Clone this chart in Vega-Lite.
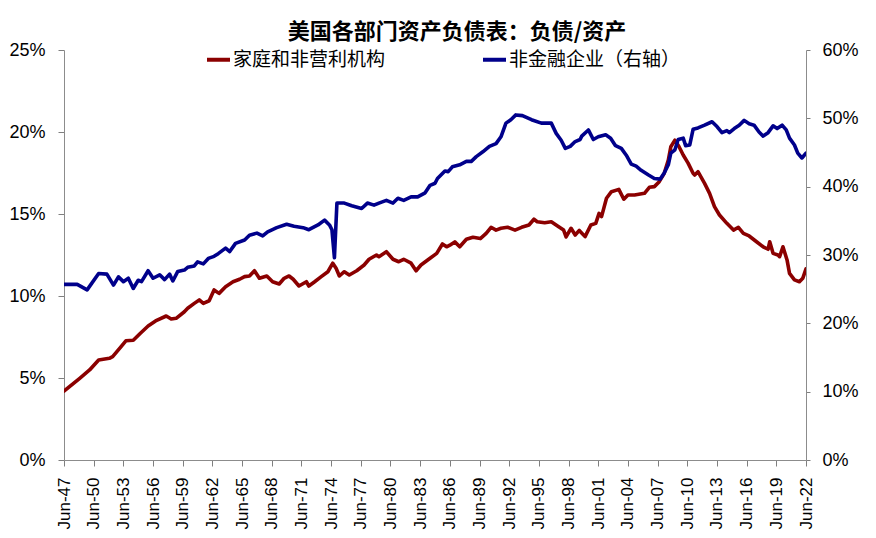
{
  "$schema": "https://vega.github.io/schema/vega-lite/v6.json",
  "width": 742,
  "height": 410,
  "autosize": {"type": "none"},
  "padding": {"left": 64, "top": 50, "right": 70, "bottom": 78},
  "background": "white",
  "title": {
    "text": "美国各部门资产负债表：负债/资产",
    "font": "Noto Sans CJK SC",
    "fontSize": 22,
    "fontWeight": "bold",
    "color": "#000000",
    "anchor": "middle",
    "dx": 22,
    "offset": -3
  },
  "config": {
    "view": {"stroke": null},
    "axis": {
      "grid": false,
      "labelFont": "Liberation Sans",
      "labelColor": "#000000",
      "domainColor": "#8c8c8c",
      "tickColor": "#7f7f7f",
      "tickWidth": 1,
      "domainWidth": 1,
      "title": null
    },
    "axisX": {"labelOverlap": false, "labelFlush": false}
  },
  "datasets": {
    "hh": [
      {"date": "1947-06-01", "v": 4.2},
      {"date": "1949-01-01", "v": 4.98},
      {"date": "1950-01-01", "v": 5.49},
      {"date": "1950-12-01", "v": 6.1},
      {"date": "1952-01-01", "v": 6.2},
      {"date": "1952-05-01", "v": 6.3},
      {"date": "1953-03-01", "v": 6.9},
      {"date": "1953-09-01", "v": 7.27},
      {"date": "1954-06-01", "v": 7.3},
      {"date": "1955-02-01", "v": 7.7},
      {"date": "1955-12-01", "v": 8.17},
      {"date": "1956-09-01", "v": 8.48},
      {"date": "1957-10-01", "v": 8.78},
      {"date": "1958-04-01", "v": 8.6},
      {"date": "1958-10-01", "v": 8.64},
      {"date": "1959-08-01", "v": 9.04},
      {"date": "1959-12-01", "v": 9.25},
      {"date": "1960-08-01", "v": 9.55},
      {"date": "1961-02-01", "v": 9.76},
      {"date": "1961-07-01", "v": 9.55},
      {"date": "1962-02-01", "v": 9.71},
      {"date": "1962-08-01", "v": 10.37},
      {"date": "1963-02-01", "v": 10.16},
      {"date": "1963-10-01", "v": 10.57},
      {"date": "1964-07-01", "v": 10.87},
      {"date": "1965-03-01", "v": 11.02},
      {"date": "1965-09-01", "v": 11.18},
      {"date": "1966-03-01", "v": 11.22},
      {"date": "1966-09-01", "v": 11.54},
      {"date": "1967-03-01", "v": 11.08},
      {"date": "1967-12-01", "v": 11.22},
      {"date": "1968-07-01", "v": 10.87},
      {"date": "1969-03-01", "v": 10.73},
      {"date": "1969-09-01", "v": 11.08},
      {"date": "1970-03-01", "v": 11.22},
      {"date": "1970-08-01", "v": 11.02},
      {"date": "1971-03-01", "v": 10.61},
      {"date": "1971-12-01", "v": 10.87},
      {"date": "1972-03-01", "v": 10.61},
      {"date": "1972-10-01", "v": 10.87},
      {"date": "1973-06-01", "v": 11.18},
      {"date": "1974-02-01", "v": 11.48},
      {"date": "1974-08-01", "v": 12.0},
      {"date": "1974-12-01", "v": 11.69},
      {"date": "1975-04-01", "v": 11.22},
      {"date": "1975-10-01", "v": 11.48},
      {"date": "1976-04-01", "v": 11.28},
      {"date": "1977-01-01", "v": 11.54},
      {"date": "1977-10-01", "v": 11.89},
      {"date": "1978-04-01", "v": 12.24},
      {"date": "1979-01-01", "v": 12.5},
      {"date": "1979-04-01", "v": 12.4},
      {"date": "1980-01-01", "v": 12.7},
      {"date": "1980-09-01", "v": 12.24},
      {"date": "1981-04-01", "v": 12.09},
      {"date": "1981-10-01", "v": 12.24},
      {"date": "1982-07-01", "v": 12.0},
      {"date": "1983-01-01", "v": 11.54},
      {"date": "1983-07-01", "v": 11.89},
      {"date": "1984-06-01", "v": 12.3},
      {"date": "1985-02-01", "v": 12.6},
      {"date": "1985-09-01", "v": 13.17},
      {"date": "1986-02-01", "v": 13.0},
      {"date": "1986-06-01", "v": 13.1},
      {"date": "1986-12-01", "v": 13.3},
      {"date": "1987-06-01", "v": 13.0},
      {"date": "1988-02-01", "v": 13.46},
      {"date": "1988-10-01", "v": 13.58},
      {"date": "1989-07-01", "v": 13.5},
      {"date": "1990-02-01", "v": 13.82},
      {"date": "1990-08-01", "v": 14.19},
      {"date": "1991-02-01", "v": 14.02},
      {"date": "1991-08-01", "v": 14.13},
      {"date": "1992-04-01", "v": 14.19},
      {"date": "1993-01-01", "v": 14.02},
      {"date": "1993-09-01", "v": 14.19},
      {"date": "1994-06-01", "v": 14.33},
      {"date": "1994-12-01", "v": 14.68},
      {"date": "1995-04-01", "v": 14.53},
      {"date": "1996-01-01", "v": 14.47},
      {"date": "1996-09-01", "v": 14.53},
      {"date": "1997-06-01", "v": 14.22},
      {"date": "1997-12-01", "v": 14.02},
      {"date": "1998-03-01", "v": 13.6},
      {"date": "1998-09-01", "v": 14.13},
      {"date": "1999-02-01", "v": 13.72},
      {"date": "1999-07-01", "v": 14.0},
      {"date": "2000-02-01", "v": 13.62},
      {"date": "2000-09-01", "v": 14.33},
      {"date": "2001-03-01", "v": 14.43},
      {"date": "2001-07-01", "v": 15.04},
      {"date": "2001-10-01", "v": 14.84},
      {"date": "2002-04-01", "v": 15.96},
      {"date": "2002-10-01", "v": 16.36},
      {"date": "2003-07-01", "v": 16.5},
      {"date": "2004-01-01", "v": 15.9},
      {"date": "2004-06-01", "v": 16.16},
      {"date": "2005-02-01", "v": 16.16},
      {"date": "2006-02-01", "v": 16.26},
      {"date": "2006-08-01", "v": 16.63},
      {"date": "2007-02-01", "v": 16.67},
      {"date": "2007-08-01", "v": 16.97},
      {"date": "2008-02-01", "v": 17.48},
      {"date": "2008-07-01", "v": 18.29},
      {"date": "2008-10-01", "v": 19.1},
      {"date": "2009-03-01", "v": 19.5},
      {"date": "2009-08-01", "v": 19.1},
      {"date": "2010-01-01", "v": 18.6},
      {"date": "2010-07-01", "v": 18.1},
      {"date": "2011-01-01", "v": 17.48},
      {"date": "2011-03-01", "v": 17.38},
      {"date": "2011-07-01", "v": 17.58},
      {"date": "2012-03-01", "v": 16.87},
      {"date": "2012-09-01", "v": 16.26},
      {"date": "2013-03-01", "v": 15.45},
      {"date": "2013-09-01", "v": 14.94},
      {"date": "2014-06-01", "v": 14.43},
      {"date": "2015-02-01", "v": 14.02},
      {"date": "2015-08-01", "v": 14.19},
      {"date": "2016-02-01", "v": 13.82},
      {"date": "2016-09-01", "v": 13.66},
      {"date": "2017-06-01", "v": 13.31},
      {"date": "2018-02-01", "v": 13.0},
      {"date": "2018-08-01", "v": 12.85},
      {"date": "2018-10-01", "v": 13.31},
      {"date": "2019-02-01", "v": 12.6},
      {"date": "2019-08-01", "v": 12.5},
      {"date": "2019-10-01", "v": 12.4},
      {"date": "2020-02-01", "v": 13.0},
      {"date": "2020-07-01", "v": 12.2},
      {"date": "2020-10-01", "v": 11.38},
      {"date": "2021-04-01", "v": 10.98},
      {"date": "2021-10-01", "v": 10.87},
      {"date": "2022-02-01", "v": 11.08},
      {"date": "2022-06-01", "v": 11.65}
    ],
    "nfc": [
      {"date": "1947-06-01", "v": 25.7},
      {"date": "1948-10-01", "v": 25.7},
      {"date": "1949-10-01", "v": 24.9},
      {"date": "1950-12-01", "v": 27.3},
      {"date": "1951-10-01", "v": 27.2},
      {"date": "1952-06-01", "v": 25.6},
      {"date": "1952-12-01", "v": 26.8},
      {"date": "1953-06-01", "v": 26.1},
      {"date": "1953-12-01", "v": 26.6},
      {"date": "1954-06-01", "v": 25.1},
      {"date": "1954-12-01", "v": 26.3},
      {"date": "1955-04-01", "v": 26.1},
      {"date": "1955-12-01", "v": 27.7},
      {"date": "1956-06-01", "v": 26.6},
      {"date": "1957-02-01", "v": 27.1},
      {"date": "1957-08-01", "v": 26.4},
      {"date": "1958-02-01", "v": 27.2},
      {"date": "1958-06-01", "v": 26.2},
      {"date": "1958-12-01", "v": 27.6},
      {"date": "1959-08-01", "v": 27.8},
      {"date": "1959-12-01", "v": 28.2},
      {"date": "1960-08-01", "v": 28.4},
      {"date": "1960-12-01", "v": 29.0},
      {"date": "1961-07-01", "v": 28.7},
      {"date": "1962-01-01", "v": 29.5},
      {"date": "1962-08-01", "v": 29.8},
      {"date": "1963-01-01", "v": 30.2},
      {"date": "1963-10-01", "v": 31.0},
      {"date": "1964-03-01", "v": 30.5},
      {"date": "1964-10-01", "v": 31.7},
      {"date": "1965-09-01", "v": 32.2},
      {"date": "1966-03-01", "v": 32.9},
      {"date": "1966-12-01", "v": 33.2},
      {"date": "1967-07-01", "v": 32.8},
      {"date": "1968-01-01", "v": 33.4},
      {"date": "1968-12-01", "v": 34.0},
      {"date": "1969-12-01", "v": 34.5},
      {"date": "1970-09-01", "v": 34.2},
      {"date": "1971-08-01", "v": 34.0},
      {"date": "1972-03-01", "v": 33.7},
      {"date": "1973-02-01", "v": 34.4},
      {"date": "1973-10-01", "v": 35.1},
      {"date": "1974-04-01", "v": 34.4},
      {"date": "1974-07-01", "v": 33.7},
      {"date": "1974-10-01", "v": 29.6},
      {"date": "1975-01-01", "v": 37.6},
      {"date": "1975-10-01", "v": 37.6},
      {"date": "1976-07-01", "v": 37.2},
      {"date": "1977-07-01", "v": 36.8},
      {"date": "1978-02-01", "v": 37.6},
      {"date": "1978-10-01", "v": 37.3},
      {"date": "1979-04-01", "v": 37.6},
      {"date": "1980-01-01", "v": 38.0},
      {"date": "1980-09-01", "v": 37.6},
      {"date": "1981-03-01", "v": 38.3},
      {"date": "1981-10-01", "v": 38.0},
      {"date": "1982-07-01", "v": 38.5},
      {"date": "1983-03-01", "v": 38.5},
      {"date": "1983-12-01", "v": 39.1},
      {"date": "1984-06-01", "v": 40.2},
      {"date": "1984-12-01", "v": 40.5},
      {"date": "1985-03-01", "v": 41.2},
      {"date": "1985-12-01", "v": 42.3},
      {"date": "1986-04-01", "v": 42.2},
      {"date": "1986-09-01", "v": 42.9},
      {"date": "1987-06-01", "v": 43.2},
      {"date": "1988-02-01", "v": 43.7},
      {"date": "1988-08-01", "v": 43.7},
      {"date": "1989-02-01", "v": 44.4},
      {"date": "1989-10-01", "v": 45.1},
      {"date": "1990-06-01", "v": 45.9},
      {"date": "1991-02-01", "v": 46.3},
      {"date": "1991-08-01", "v": 47.3},
      {"date": "1992-02-01", "v": 49.3},
      {"date": "1992-08-01", "v": 49.8},
      {"date": "1993-02-01", "v": 50.5},
      {"date": "1993-10-01", "v": 50.4},
      {"date": "1994-09-01", "v": 49.8},
      {"date": "1995-09-01", "v": 49.3},
      {"date": "1996-09-01", "v": 49.3},
      {"date": "1997-03-01", "v": 47.8},
      {"date": "1997-09-01", "v": 46.8},
      {"date": "1998-02-01", "v": 45.6},
      {"date": "1998-08-01", "v": 45.9},
      {"date": "1999-02-01", "v": 46.6},
      {"date": "1999-08-01", "v": 46.9},
      {"date": "1999-10-01", "v": 47.4},
      {"date": "2000-06-01", "v": 48.3},
      {"date": "2000-12-01", "v": 46.9},
      {"date": "2001-06-01", "v": 47.3},
      {"date": "2002-03-01", "v": 47.6},
      {"date": "2002-09-01", "v": 47.1},
      {"date": "2003-03-01", "v": 46.0},
      {"date": "2003-10-01", "v": 45.6},
      {"date": "2004-04-01", "v": 44.6},
      {"date": "2004-10-01", "v": 43.3},
      {"date": "2005-04-01", "v": 43.0},
      {"date": "2005-10-01", "v": 42.4},
      {"date": "2006-07-01", "v": 41.7},
      {"date": "2007-02-01", "v": 41.2},
      {"date": "2007-09-01", "v": 41.1},
      {"date": "2008-02-01", "v": 42.0},
      {"date": "2008-07-01", "v": 43.2},
      {"date": "2008-10-01", "v": 44.9},
      {"date": "2009-03-01", "v": 45.4},
      {"date": "2009-07-01", "v": 46.9},
      {"date": "2010-01-01", "v": 47.1},
      {"date": "2010-04-01", "v": 46.0},
      {"date": "2010-09-01", "v": 46.1},
      {"date": "2011-01-01", "v": 48.4},
      {"date": "2011-07-01", "v": 48.6},
      {"date": "2012-03-01", "v": 49.0},
      {"date": "2012-12-01", "v": 49.5},
      {"date": "2013-06-01", "v": 48.8},
      {"date": "2013-12-01", "v": 47.9},
      {"date": "2014-06-01", "v": 48.2},
      {"date": "2014-09-01", "v": 47.9},
      {"date": "2015-03-01", "v": 48.5},
      {"date": "2015-09-01", "v": 49.0},
      {"date": "2016-03-01", "v": 49.7},
      {"date": "2016-09-01", "v": 49.2},
      {"date": "2017-03-01", "v": 49.0},
      {"date": "2017-09-01", "v": 48.0},
      {"date": "2018-02-01", "v": 47.4},
      {"date": "2018-08-01", "v": 47.9},
      {"date": "2019-02-01", "v": 48.9},
      {"date": "2019-07-01", "v": 48.5},
      {"date": "2020-01-01", "v": 49.0},
      {"date": "2020-06-01", "v": 48.3},
      {"date": "2020-10-01", "v": 47.1},
      {"date": "2021-04-01", "v": 46.1},
      {"date": "2021-08-01", "v": 44.9},
      {"date": "2022-01-01", "v": 44.2},
      {"date": "2022-06-01", "v": 44.9}
    ]
  },
  "encoding": {
    "x": {
      "field": "date",
      "type": "temporal",
      "scale": {"type": "utc", "domain": [{"year": 1947, "month": 6, "date": 1, "utc": true}, {"year": 2022, "month": 6, "date": 1, "utc": true}]},
      "axis": {
        "orient": "bottom",
        "format": "%b-%y",
        "labelAngle": 270,
        "labelFontSize": 17,
        "tickSize": 6,
        "labelPadding": 11,
        "labelOverlap": false,
        "labelFlush": false,
        "labelSeparation": 0,
        "encode": {"ticks": {"update": {"y2": {"value": -6}}}},
        "values": [
          {"year": 1947, "month": 6, "date": 1, "utc": true},
          {"year": 1950, "month": 6, "date": 1, "utc": true},
          {"year": 1953, "month": 6, "date": 1, "utc": true},
          {"year": 1956, "month": 6, "date": 1, "utc": true},
          {"year": 1959, "month": 6, "date": 1, "utc": true},
          {"year": 1962, "month": 6, "date": 1, "utc": true},
          {"year": 1965, "month": 6, "date": 1, "utc": true},
          {"year": 1968, "month": 6, "date": 1, "utc": true},
          {"year": 1971, "month": 6, "date": 1, "utc": true},
          {"year": 1974, "month": 6, "date": 1, "utc": true},
          {"year": 1977, "month": 6, "date": 1, "utc": true},
          {"year": 1980, "month": 6, "date": 1, "utc": true},
          {"year": 1983, "month": 6, "date": 1, "utc": true},
          {"year": 1986, "month": 6, "date": 1, "utc": true},
          {"year": 1989, "month": 6, "date": 1, "utc": true},
          {"year": 1992, "month": 6, "date": 1, "utc": true},
          {"year": 1995, "month": 6, "date": 1, "utc": true},
          {"year": 1998, "month": 6, "date": 1, "utc": true},
          {"year": 2001, "month": 6, "date": 1, "utc": true},
          {"year": 2004, "month": 6, "date": 1, "utc": true},
          {"year": 2007, "month": 6, "date": 1, "utc": true},
          {"year": 2010, "month": 6, "date": 1, "utc": true},
          {"year": 2013, "month": 6, "date": 1, "utc": true},
          {"year": 2016, "month": 6, "date": 1, "utc": true},
          {"year": 2019, "month": 6, "date": 1, "utc": true},
          {"year": 2022, "month": 6, "date": 1, "utc": true}
        ]
      }
    }
  },
  "layer": [
    {
      "data": {"name": "hh"},
      "mark": {"type": "line", "strokeWidth": 3.6, "strokeJoin": "round", "strokeCap": "round", "clip": true},
      "encoding": {
        "y": {
          "field": "v",
          "type": "quantitative",
          "scale": {"domain": [0, 25], "nice": false, "zero": true},
          "axis": {
            "orient": "left",
            "values": [0, 5, 10, 15, 20, 25],
            "labelExpr": "datum.value + '%'",
            "labelFontSize": 18,
            "tickSize": 6,
            "labelPadding": 13,
            "encode": {"ticks": {"update": {"x2": {"value": 6}}}}
          }
        },
        "color": {
          "datum": "家庭和非营利机构",
          "type": "nominal",
          "scale": {"domain": ["家庭和非营利机构", "非金融企业（右轴）"], "range": ["#8b0000", "#00008b"]},
          "legend": {
            "orient": "none",
            "legendX": 141,
            "legendY": -4,
            "direction": "horizontal",
            "title": null,
            "symbolType": "stroke",
            "symbolSize": 529,
            "symbolStrokeWidth": 4,
            "labelFont": "Noto Sans CJK SC",
            "labelFontSize": 19,
            "labelColor": "#000000",
            "labelOffset": 1,
            "labelLimit": 400,
            "columnPadding": 89
          }
        }
      }
    },
    {
      "data": {"name": "nfc"},
      "mark": {"type": "line", "strokeWidth": 3.6, "strokeJoin": "round", "strokeCap": "round", "clip": true},
      "encoding": {
        "y": {
          "field": "v",
          "type": "quantitative",
          "scale": {"domain": [0, 60], "nice": false, "zero": true},
          "axis": {
            "orient": "right",
            "values": [0, 10, 20, 30, 40, 50, 60],
            "labelExpr": "datum.value + '%'",
            "labelFontSize": 18,
            "tickSize": 4,
            "labelPadding": 12
          }
        },
        "color": {"datum": "非金融企业（右轴）", "type": "nominal"}
      }
    }
  ],
  "resolve": {"scale": {"y": "independent"}}
}
